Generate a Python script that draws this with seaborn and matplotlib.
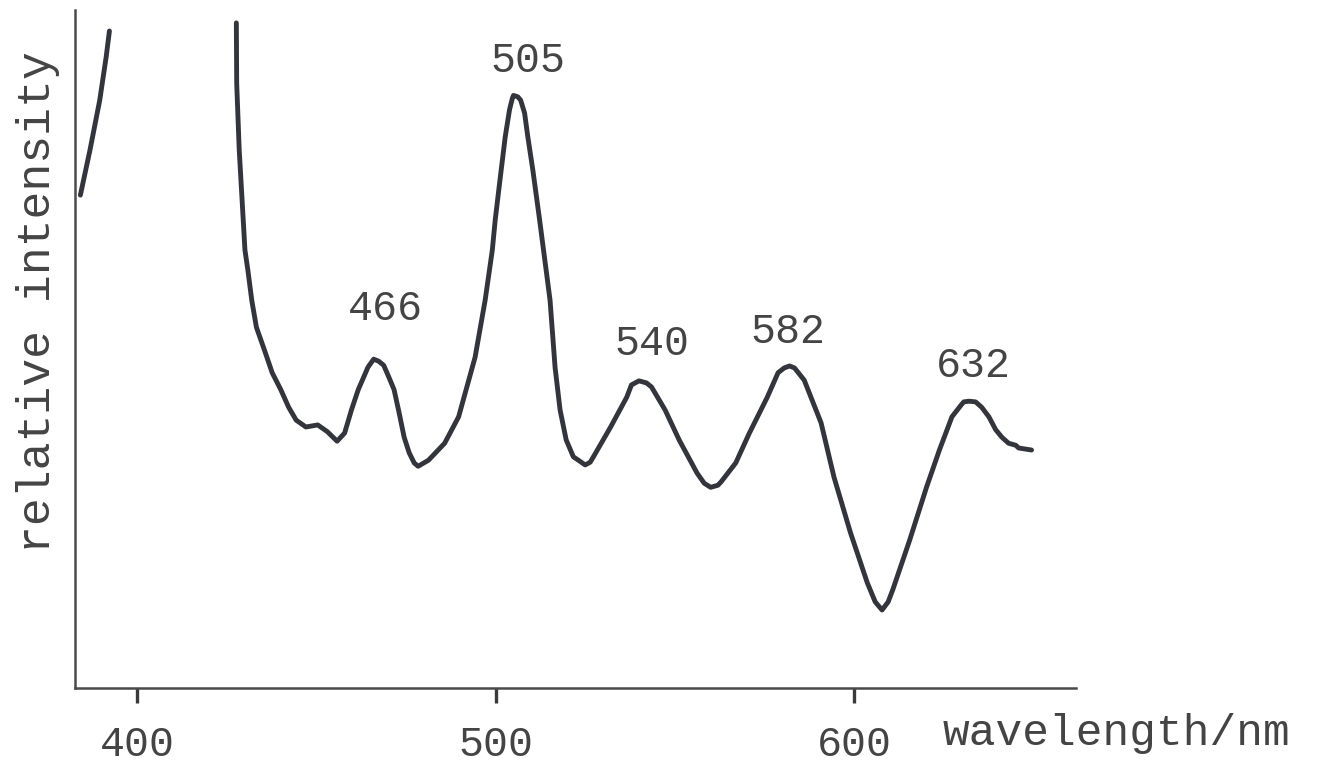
import matplotlib
matplotlib.use("Agg")
import matplotlib.pyplot as plt
import seaborn as sns
import numpy as np
import pandas as pd

# Short-wavelength edge of the spectrum (first trace, leaves the frame at the top)
edge_nm = [384.2, 386.9, 389.6, 391.4, 392.3]
edge_int = [72.7, 79.4, 86.7, 93.1, 96.9]

# Main emission trace
spec_nm = [427.7, 427.8, 428.5, 429.3, 430.1, 430.9, 432.0, 433.3, 435.5, 437.7,
           440.1, 442.3, 444.4, 447.1, 450.4, 453.1, 455.8, 457.9, 459.8, 461.7,
           463.1, 464.4, 466.0, 467.4, 468.8, 470.2, 471.7, 473.1, 474.5, 475.9,
           477.3, 478.4, 481.3, 485.8, 489.7, 494.3, 497.1, 499.1, 499.9, 501.0,
           502.7, 503.9, 504.7, 505.0, 506.2, 507.0, 508.1, 509.0, 510.4, 512.3,
           515.2, 516.6, 518.0, 519.7, 521.7, 523.1, 525.0, 526.4, 527.3, 532.1,
           536.6, 537.9, 540.0, 542.1, 543.5, 547.3, 551.2, 556.2, 558.2, 560.0,
           562.0, 562.9, 567.0, 570.8, 575.8, 578.8, 580.5, 582.0, 583.4, 586.1,
           590.8, 594.4, 599.0, 603.7, 605.9, 607.8, 609.5, 610.8, 615.5, 620.2,
           623.8, 627.3, 629.8, 630.6, 632.0, 633.9, 635.6, 637.6, 639.5, 641.2,
           643.1, 645.1, 645.9, 649.5]
spec_int = [98.1, 89.2, 79.4, 72.0, 64.6, 61.7, 57.2, 53.2, 49.9, 46.5,
            44.0, 41.4, 39.5, 38.5, 38.8, 37.8, 36.4, 37.6, 41.0, 44.0,
            45.7, 47.3, 48.5, 48.2, 47.6, 45.9, 44.0, 40.6, 37.0, 34.7,
            33.2, 32.7, 33.6, 36.1, 40.0, 48.8, 57.2, 64.6, 69.0, 73.9,
            81.3, 85.3, 87.0, 87.4, 87.2, 86.7, 84.8, 81.3, 76.4, 69.0,
            57.2, 47.3, 41.0, 36.6, 34.1, 33.6, 32.9, 33.3, 34.1, 38.5,
            42.9, 44.7, 45.3, 45.0, 44.4, 41.0, 36.6, 31.7, 30.2, 29.6,
            29.9, 30.4, 33.2, 37.6, 42.9, 46.5, 47.2, 47.5, 47.2, 45.4,
            39.1, 31.1, 22.9, 15.5, 12.7, 11.5, 12.7, 14.5, 21.8, 29.6,
            35.1, 40.0, 41.7, 42.2, 42.3, 42.2, 41.4, 40.0, 38.1, 37.0,
            36.1, 35.8, 35.4, 35.1]

# Band maxima and their labels
peak_nm = [466, 505, 540, 582, 632]
peak_labels = ["466", "505", "540", "582", "632"]

# Axis ticks
tick_nm = [400, 500, 600]
tick_labels = ["400", "500", "600"]

sns.set_style("white")
plt.rcParams["font.family"] = ["Liberation Mono", "DejaVu Sans Mono"]

INK = "#34343c"
TEXT = "#444444"
DPI = 100

fig = plt.figure(figsize=(13.2, 7.7), dpi=DPI)
fig.patch.set_facecolor("white")
ax = fig.add_axes([75 / 1320, 82 / 770, 1001 / 1320, 678 / 770])
ax.set_facecolor("white")

edge_df = pd.DataFrame({"wavelength": edge_nm, "intensity": edge_int})
spec_df = pd.DataFrame({"wavelength": spec_nm, "intensity": spec_int})

line_kw = dict(color=INK, linewidth=3.5, sort=False, estimator=None,
               solid_joinstyle="round", solid_capstyle="round")
sns.lineplot(data=edge_df, x="wavelength", y="intensity", ax=ax, **line_kw)
sns.lineplot(data=spec_df, x="wavelength", y="intensity", ax=ax, **line_kw)

ax.set_xlim(382.7, 661.9)
ax.set_ylim(0, 100)

# Peak annotations placed above each band maximum
peak_int = np.interp(peak_nm, spec_nm, spec_int)
label_dx = [12, 14, 13, -2, 5]      # px
label_dy = [39, 23, 26, 23, 24]     # px, to text baseline
for nm, val, lab, dx, dy in zip(peak_nm, peak_int, peak_labels, label_dx, label_dy):
    ax.annotate(lab, xy=(nm, val), xytext=(dx * 72 / DPI, dy * 72 / DPI),
                textcoords="offset points", ha="center", va="baseline",
                fontsize=30, color=TEXT)

# Axes frame: only the left and bottom lines
sns.despine(ax=ax, top=True, right=True)
for side in ("left", "bottom"):
    ax.spines[side].set_color("#4a4a4a")
    ax.spines[side].set_linewidth(1.8)

ax.set_xticks(tick_nm)
ax.set_xticklabels(tick_labels, fontsize=30, color=TEXT)
ax.set_yticks([])
ax.tick_params(axis="x", bottom=True, direction="out", length=11, width=2.4,
               color="#3a3a3a", pad=16)
ax.set_xlabel("")
ax.set_ylabel("")

fig.text(943 / 1320, 1 - 745 / 770, "wavelength/nm", ha="left", va="baseline",
         fontsize=32, color=TEXT)
fig.text(38 / 1320, 1 - 302 / 770, "relative intensity", ha="center",
         va="center", rotation=90, fontsize=33.5, color=TEXT)

fig.savefig("out.png", dpi=DPI, facecolor="white")
